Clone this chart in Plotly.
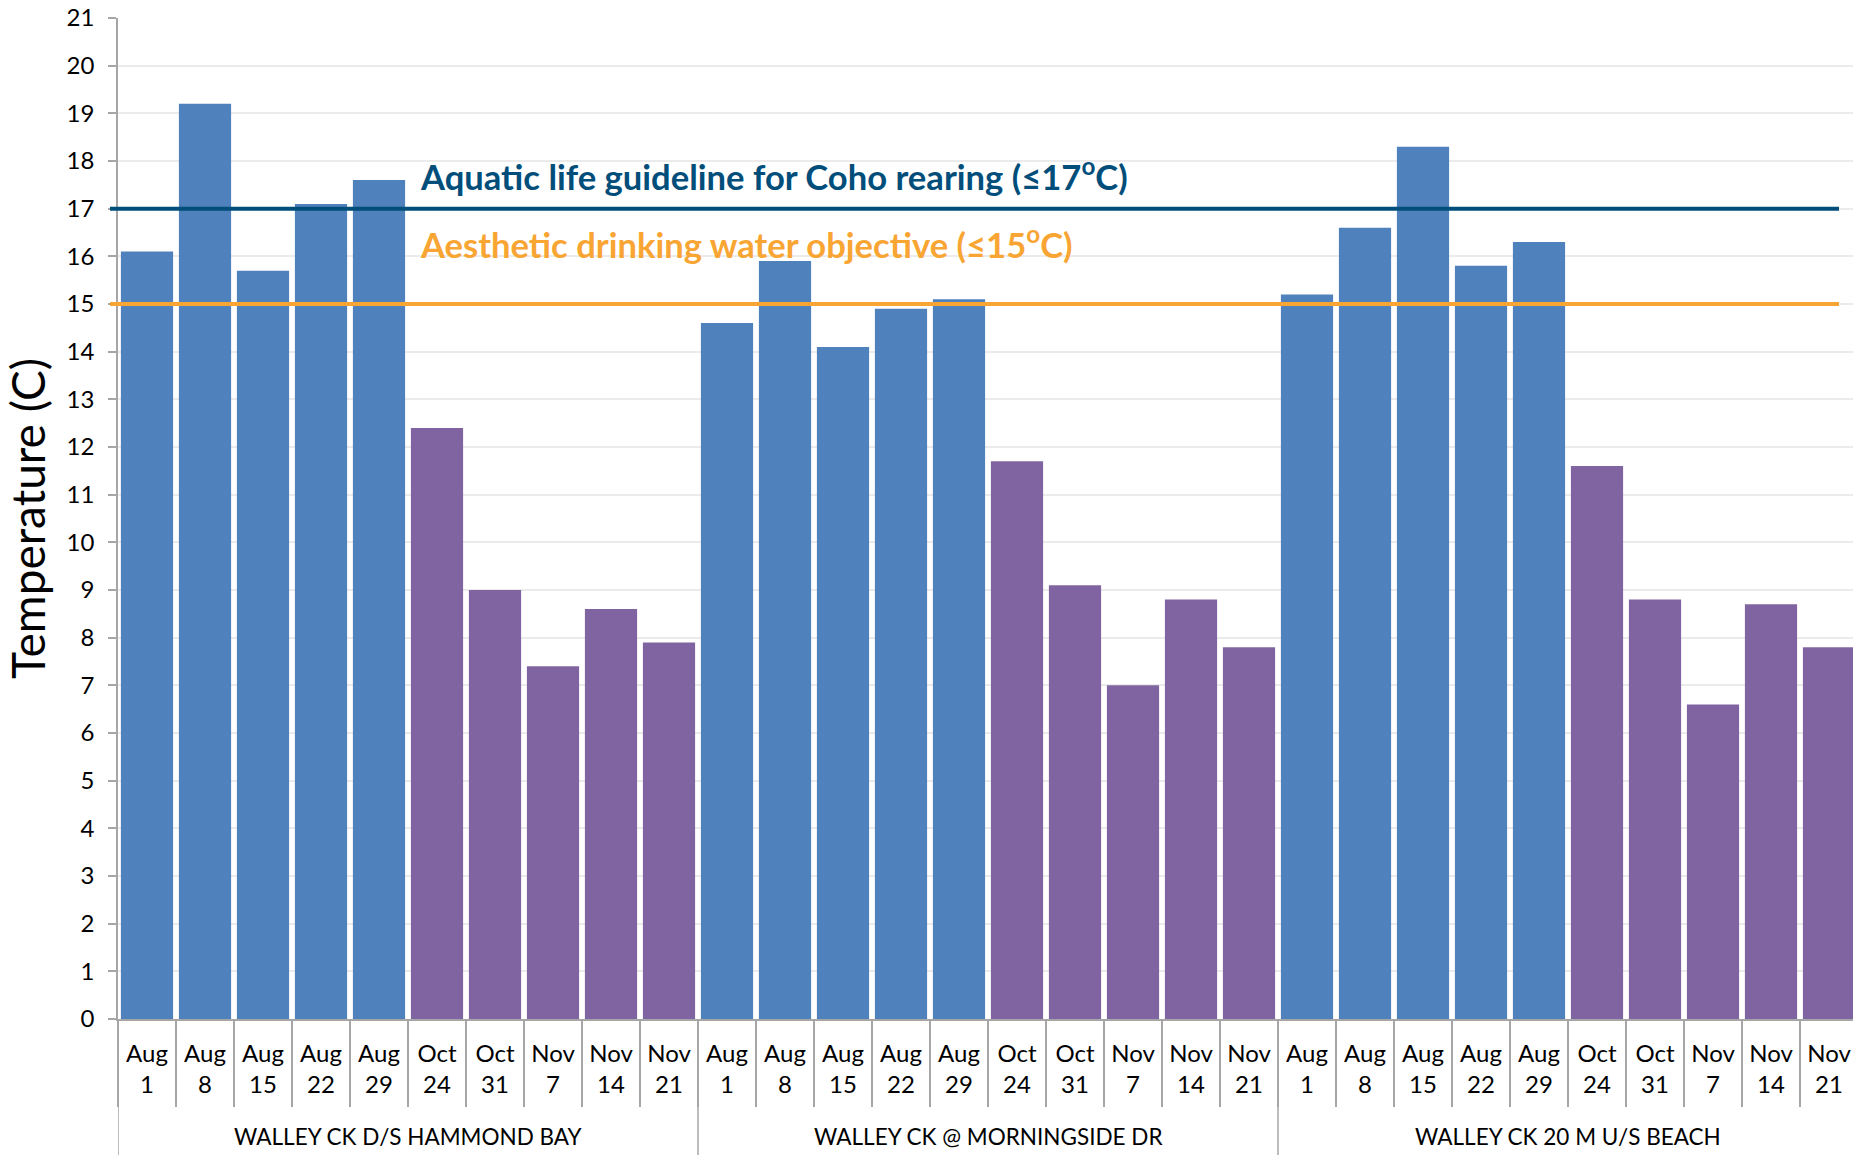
import plotly.graph_objects as go

# ---------------- data ----------------
sites = ["WALLEY CK D/S HAMMOND BAY", "WALLEY CK @ MORNINGSIDE DR", "WALLEY CK 20 M U/S BEACH"]
dates = ["Aug 1", "Aug 8", "Aug 15", "Aug 22", "Aug 29",
         "Oct 24", "Oct 31", "Nov 7", "Nov 14", "Nov 21"]
temp_hammond = [16.1, 19.2, 15.7, 17.1, 17.6, 12.4, 9.0, 7.4, 8.6, 7.9]
temp_morningside = [14.6, 15.9, 14.1, 14.9, 15.1, 11.7, 9.1, 7.0, 8.8, 7.8]
temp_beach = [15.2, 16.6, 18.3, 15.8, 16.3, 11.6, 8.8, 6.6, 8.7, 7.8]
y_ticks = list(range(0, 22))
COHO_LIMIT = 17
AESTHETIC_LIMIT = 15
coho_label = "Aquatic life guideline for Coho rearing (≤17<sup>o</sup>C)"
aesthetic_label = "Aesthetic drinking water objective (≤15<sup>o</sup>C)"

# ---------------- styling ----------------
FONT = "Lato"
BLUE = "#4F81BD"
PURPLE = "#8064A2"
GRAY = "#A6A6A6"
COHO_COLOR = "#024E7B"
AESTH_COLOR = "#F8A533"

all_temps = [temp_hammond, temp_morningside, temp_beach]
n = len(dates)
x_pos, y_vals, colors, tick_text = [], [], [], []
for s, temps in enumerate(all_temps):
    for d, (date, t) in enumerate(zip(dates, temps)):
        x_pos.append(s * n + d)
        y_vals.append(t)
        colors.append(BLUE if date.startswith("Aug") else PURPLE)
        tick_text.append(date.replace(" ", "<br>"))

total = len(x_pos)
boundaries = [i - 0.5 for i in range(total + 1)]
group_bounds = [s * n - 0.5 for s in range(len(sites) + 1)]

fig = go.Figure()
fig.add_trace(go.Bar(x=x_pos, y=y_vals, marker=dict(color=colors, line=dict(width=0)),
                     width=0.9, showlegend=False))

W, H = 1853, 1155
ML, MR, MT = 118, 0, 18
plot_h = 1001
MB = H - MT - plot_h
plot_w = W - ML - MR
pitch = 58.0
x_max = -0.5 + plot_w / pitch

# threshold lines
line_x0 = -8 / plot_w
line_x1 = (1839 - ML) / plot_w
fig.add_shape(type="line", xref="paper", yref="y", x0=line_x0, x1=line_x1,
              y0=COHO_LIMIT, y1=COHO_LIMIT, line=dict(color=COHO_COLOR, width=4))
fig.add_shape(type="line", xref="paper", yref="y", x0=line_x0, x1=line_x1,
              y0=AESTHETIC_LIMIT, y1=AESTHETIC_LIMIT, line=dict(color=AESTH_COLOR, width=4))

# group dividers (extend to bottom)
for gb in group_bounds:
    fig.add_shape(type="line", xref="x", yref="paper", x0=gb, x1=gb,
                  y0=0, y1=-MB / plot_h, line=dict(color=GRAY, width=1.5))

# group labels
for s, name in enumerate(sites):
    fig.add_annotation(x=s * n + (n - 1) / 2, xref="x", y=-117 / plot_h, yref="paper",
                       text=name, showarrow=False, yanchor="middle",
                       font=dict(family=FONT, size=22.5, color="#000000"))

# guideline labels
text_x = (418 - ML) / plot_w
fig.add_annotation(x=text_x, xref="paper", y=17.72, yref="y", text="<b>" + coho_label + "</b>",
                   showarrow=False, xanchor="left", yanchor="middle",
                   font=dict(family=FONT, size=34.6, color=COHO_COLOR))
fig.add_annotation(x=text_x, xref="paper", y=16.30, yref="y", text="<b>" + aesthetic_label + "</b>",
                   showarrow=False, xanchor="left", yanchor="middle",
                   font=dict(family=FONT, size=34.6, color=AESTH_COLOR))

fig.update_layout(
    width=W, height=H,
    margin=dict(l=ML, r=MR, t=MT, b=MB, pad=0, autoexpand=False),
    paper_bgcolor="white", plot_bgcolor="white",
    bargap=0.1,
    font=dict(family=FONT, size=24, color="#000000"),
    xaxis=dict(
        range=[-0.5, x_max], automargin=False,
        tickmode="array", tickvals=x_pos, ticktext=tick_text,
        ticks="", showgrid=False, zeroline=False,
        showline=True, linecolor=GRAY, linewidth=1.5,
        tickfont=dict(family=FONT, size=24, color="#000000"),
        tickangle=0, ticklabelstandoff=12, ticklabeloverflow="allow",
        minor=dict(tickmode="array", tickvals=boundaries, ticks="outside",
                   ticklen=86, tickcolor=GRAY, tickwidth=1.5, showgrid=False),
    ),
    yaxis=dict(
        range=[0, 21], tickmode="array", tickvals=y_ticks, automargin=False,
        ticks="outside", ticklen=8, tickcolor=GRAY, tickwidth=1.5,
        showline=True, linecolor=GRAY, linewidth=1.5,
        showgrid=True, gridcolor="#EBEBEB", gridwidth=1.5, zeroline=False,
        tickfont=dict(family=FONT, size=24, color="#000000"),
        ticklabelstandoff=9, ticklabeloverflow="allow",
        title=dict(text="Temperature (C)", font=dict(family=FONT, size=46, color="#000000"),
                   standoff=11),
    ),
)

fig.write_html(
    "out.html",
    config={"displayModeBar": False},
    post_script="document.body.style.margin='0';document.body.style.overflow='hidden';",
)
